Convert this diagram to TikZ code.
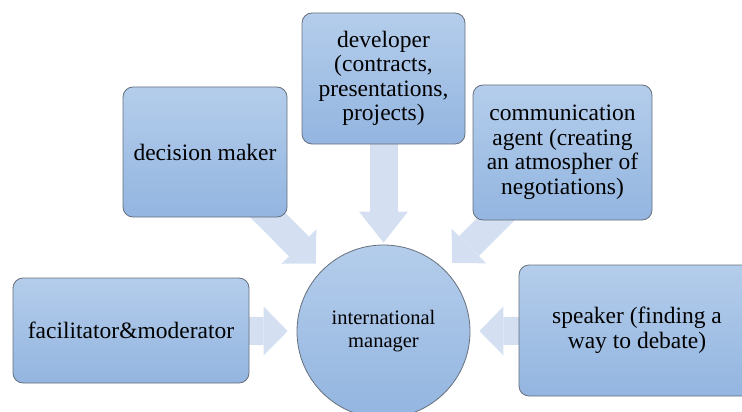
\documentclass[tikz,border=0pt]{standalone}
\usepackage{fontspec}
\setmainfont{Liberation Serif}
\usetikzlibrary{arrows.meta}
\pgfdeclarelayer{background}
\pgfsetlayers{background,main}
\definecolor{boxtop}{HTML}{B4CDEB}
\definecolor{boxbot}{HTML}{93B5E0}
\definecolor{boxline}{HTML}{66707C}
\definecolor{arrowc}{HTML}{D4E0F1}
\tikzset{
  rolebox/.style={rectangle, rounded corners=10pt, draw=boxline, line width=0.8pt,
    top color=boxtop, bottom color=boxbot, align=center, inner sep=0pt,
    font=\fontsize{23.5}{24.5}\selectfont},
  hub/.style={circle, draw=boxline, line width=0.8pt, top color=boxtop, bottom color=boxbot,
    align=center, inner sep=0pt, minimum size=173pt, font=\fontsize{20.5}{23}\selectfont},
  fatarrow/.style={draw=arrowc, line width=28pt,
    -{Triangle[length=24pt,width=49pt,line width=0pt,fill=arrowc,color=arrowc]}},
  fatarrowlong/.style={draw=arrowc, line width=28pt,
    -{Triangle[length=31pt,width=49pt,line width=0pt,fill=arrowc,color=arrowc]}}
}
\begin{document}
\begin{tikzpicture}[x=1pt,y=-1pt]
\useasboundingbox (0,0) rectangle (742,412);
\node[hub] (im) at (383.5,331.5) {international\\manager};
\node[rolebox, minimum width=236pt, minimum height=105pt] (fac) at (131,330.5) {facilitator\&moderator};
\node[rolebox, minimum width=164pt, minimum height=130pt] (dm) at (205,152) {decision maker};
\node[rolebox, minimum width=163pt, minimum height=131pt] (dev) at (383.5,78.5) {developer\\(contracts,\\presentations,\\projects)};
\node[rolebox, minimum width=179pt, minimum height=135pt] (com) at (562.5,152.5) {communication\\agent (creating\\an atmospher of\\negotiations)};
\node[rolebox, minimum width=236pt, minimum height=131pt] (spk) at (637,330.5) {speaker (finding a\\way to debate)};
\begin{pgfonlayer}{background}
\draw[fatarrow, shorten >=9pt] (fac.center) -- (im);
\draw[fatarrow, shorten >=9pt] (spk.center) -- (im);
\draw[fatarrowlong, shorten >=2pt] (dev.center) -- (im);
\draw[fatarrow, shorten >=9pt] (dm.center) -- (im);
\draw[fatarrow, shorten >=10pt] (com.center) -- (im);
\end{pgfonlayer}
\end{tikzpicture}
\end{document}
